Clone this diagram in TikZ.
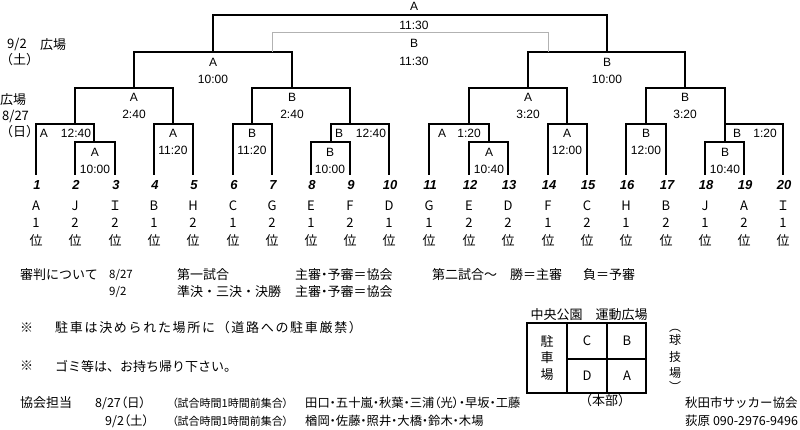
\documentclass[tikz,border=0pt]{standalone}
\usepackage{fontspec}
\setmainfont{Noto Sans CJK JP}
\newfontfamily\pjp{Noto Sans CJK JP}[RawFeature=+palt]
\newfontfamily\latin{Liberation Sans}
\usetikzlibrary{positioning}

\begin{document}
\begin{tikzpicture}[
        x=1pt, y=-1pt,
        every node/.style={inner sep=0pt},
        br/.style={line width=1.4pt},
        alt/.style={draw=gray!60, line width=1pt},
        lbl/.style={font=\latin\fontsize{12}{14}\selectfont},
        num/.style={font=\latin\bfseries\itshape\fontsize{13}{15}\selectfont},
        team/.style={font=\fontsize{13}{15}\selectfont},
        txt/.style={font=\fontsize{13}{16}\selectfont, anchor=west},
        ptxt/.style={font=\pjp\fontsize{13}{16}\selectfont, anchor=west},
        sm/.style={font=\pjp\fontsize{11.5}{14}\selectfont, anchor=west},
        fld/.style={draw, line width=1.2pt},
        vert/.style={font=\fontsize{13}{16}\selectfont, align=center},
    ]
    \useasboundingbox (0,0) rectangle (800,430);

    % Dates and fields
    \node[txt] (d2) at (7,45) {9/2};
    \node[txt] (f2) at (40,45) {広場};
    \node[txt] (w2) at (0,60) {（土）};
    \node[txt] (f1) at (0,100) {広場};
    \node[txt] (d1) at (2,117) {8/27};
    \node[txt] (w1) at (0,132) {（日）};

    % First round, left half
    \draw[br] (36,175) |- (94,124) -- (94,142);
    \draw[br] (75,175) |- (115,142) -- (115,175);
    \draw[br] (154,175) |- (193,124) -- (193,175);
    \draw[br] (233,175) |- (272,124) -- (272,175);
    \draw[br] (311,175) |- (350,142) -- (350,175);
    \draw[br] (331,142) |- (389,124) -- (389,175);

    % First round, right half
    \draw[br] (429,175) |- (489,124) -- (489,142);
    \draw[br] (469,175) |- (508,142) -- (508,175);
    \draw[br] (548,175) |- (587,124) -- (587,175);
    \draw[br] (626,175) |- (666,124) -- (666,175);
    \draw[br] (705,175) |- (744,142) -- (744,175);
    \draw[br] (725,142) |- (783,124) -- (783,175);

    % Second round
    \draw[br] (75,124) |- (173,88) -- (173,124);
    \draw[br] (252,124) |- (350,88) -- (350,124);
    \draw[br] (469,124) |- (567,88) -- (567,124);
    \draw[br] (646,124) |- (725,88) -- (725,124);

    % Semi finals, final and third place
    \draw[br] (134,88) |- (292,52) -- (292,88);
    \draw[br] (528,88) |- (685,52) -- (685,88);
    \draw[br] (213,52) |- (607,15) -- (607,52);
    \draw[alt] (272,52) |- (548,33) -- (548,52);

    % Field and kick-off of each match
    \node[lbl] (fa) at (414,6) {A};
    \node[lbl] (fat) at (414,25) {11:30};
    \node[lbl] (fb) at (414,43) {B};
    \node[lbl] (fbt) at (414,61) {11:30};
    \foreach \x/\y/\g/\t [count=\k] in {213/62/A/10:00, 607/62/B/10:00,
        134/97/A/2:40, 292/97/B/2:40, 528/97/A/3:20, 685/97/B/3:20,
        95/152/A/10:00, 173/133/A/11:20, 252/133/B/11:20, 330/152/B/10:00,
        489/152/A/10:40, 567/133/A/12:00, 646/133/B/12:00, 725/152/B/10:40} {
        \node[lbl] (g\k) at (\x,\y) {\g};
        \node[lbl] (h\k) at (\x,\y+17) {\t};
    }
    \foreach \x/\g/\u/\t [count=\k] in {44/A/76/12:40, 339/B/371/12:40,
        442/A/469/1:20, 737/B/765/1:20} {
        \node[lbl] (sg\k) at (\x,133) {\g};
        \node[lbl] (sh\k) at (\u,133) {\t};
    }

    % Teams
    \foreach \x/\t/\r [count=\i] in {36/A/1, 75/J/2, 115/Ｉ/2, 154/B/1, 193/H/2,
        233/C/1, 272/G/2, 311/E/1, 350/F/2, 389/D/1, 429/G/1, 469/E/2,
        508/D/2, 548/F/1, 587/C/2, 626/H/1, 666/B/2, 705/J/1, 744/A/2, 783/Ｉ/1} {
        \node[num] (n\i) at (\x+1,185) {\i};
        \node[team] (t\i) at (\x,206) {\t};
        \node[team] (r\i) at (\x,223) {\r};
        \node[team] (p\i) at (\x,241) {位};
    }

    % Referees
    \node[txt] (ref) at (20,275) {審判について};
    \node[sm] (rd1) at (109,275) {8/27};
    \node[txt] (rm1) at (177,275) {第一試合};
    \node[ptxt] (rw1) at (295,275) {主審・予審＝協会};
    \node[txt] (rn) at (432,275) {第二試合～};
    \node[txt] (rwin) at (510,275) {勝＝主審};
    \node[txt] (rlose) at (583,275) {負＝予審};
    \node[sm] (rd2) at (109,292) {9/2};
    \node[txt] (rm2) at (177,292) {準決・三決・決勝};
    \node[ptxt] (rw2) at (295,292) {主審・予審＝協会};

    % Notes
    \node[txt] (k1) at (20,328) {※};
    \node[txt] (park) at (55,328) {\addfontfeature{LetterSpace=13}駐車は決められた場所に（道路への駐車厳禁）};
    \node[txt] (k2) at (20,366) {※};
    \node[txt] (trash) at (55,366) {ゴミ等は、お持ち帰り下さい。};

    % Staff
    \node[txt] (staff) at (20,403) {協会担当};
    \node[sm, font=\pjp\fontsize{12.5}{14}\selectfont] (sd1) at (95,403) {8/27（日）};
    \node[sm, font=\pjp\fontsize{11}{14}\selectfont] (sm1) at (172,403) {（試合時間1時間前集合）};
    \node[sm, font=\pjp\fontsize{12.3}{14}\selectfont] (sn1) at (305,403) {田口・五十嵐・秋葉・三浦（光）・早坂・工藤};
    \node[sm, font=\pjp\fontsize{12.5}{14}\selectfont] (sd2) at (105,421) {9/2（土）};
    \node[sm, font=\pjp\fontsize{11}{14}\selectfont] (sm2) at (172,421) {（試合時間1時間前集合）};
    \node[sm, font=\pjp\fontsize{12.3}{14}\selectfont] (sn2) at (305,421) {楢岡・佐藤・照井・大橋・鈴木・木場};

    % Ground plan
    \node[vert] (park2) at (589,315) {中央公園　運動広場};
    \draw[fld] (527,323) rectangle (646,393);
    \draw[fld] (567,323) -- (567,393);
    \draw[fld] (607,323) -- (607,393);
    \draw[fld] (567,359) -- (646,359);
    \node[vert, font=\fontsize{13}{16.5}\selectfont] (lot) at (547,358) {駐\\車\\場};
    \node[team] (fc) at (587,341) {C};
    \node[team] (fbx) at (627,341) {B};
    \node[team] (fd) at (587,376) {D};
    \node[team] (fax) at (627,376) {A};
    \node[vert] (hq) at (605,401) {（本部）};
    \node[vert, font=\fontsize{12}{16.5}\selectfont] (ball) at (675,360) {︵\\[-3pt]球\\技\\場\\[-3pt]︶};

    % Organiser
    \node[txt, font=\fontsize{12.5}{16}\selectfont] (org) at (685,403) {秋田市サッカー協会};
    \node[txt, font=\fontsize{12.5}{16}\selectfont] (tel) at (685,421) {荻原 090-2976-9496};
\end{tikzpicture}
\end{document}
